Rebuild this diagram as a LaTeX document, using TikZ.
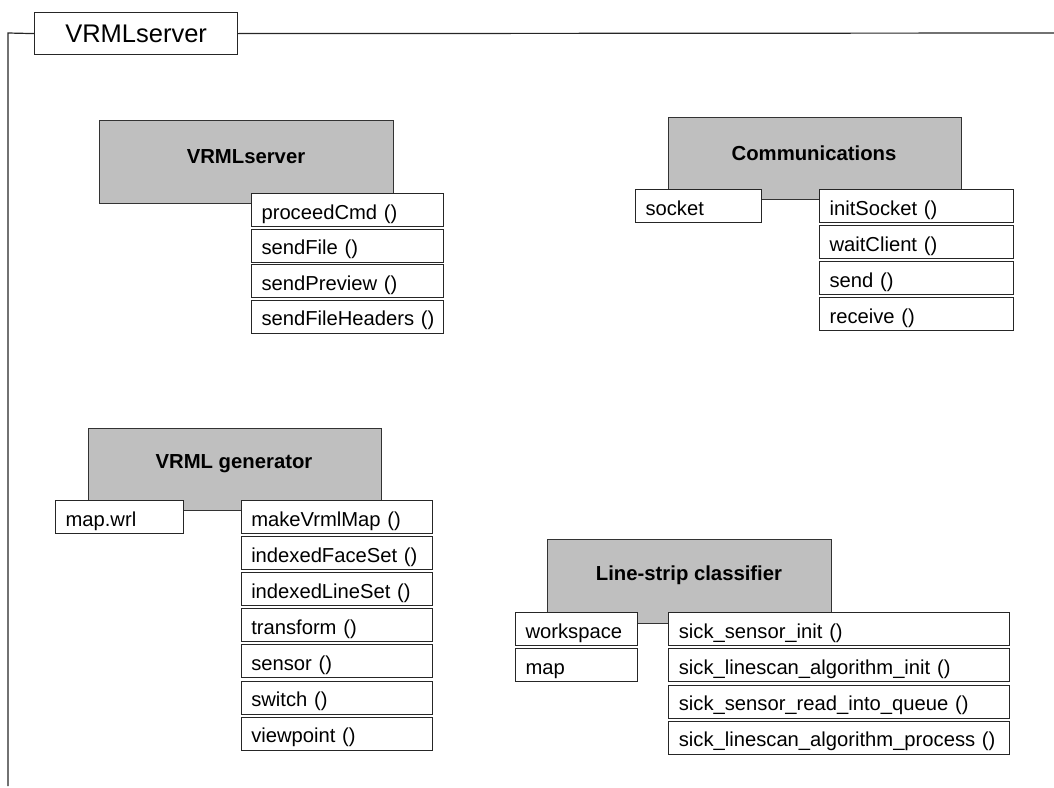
\documentclass[tikz,border=0pt]{standalone}
\usepackage{fontspec}
\setmainfont{Liberation Sans}
\begin{document}
\begin{tikzpicture}[x=1pt,y=-1pt,
  frameline/.style={draw=black!85,line width=1.2pt},
  classbox/.style={draw=black!80,fill=black!25,line width=1.1pt,anchor=north west,inner sep=0pt},
  classtitle/.style={font=\bfseries\fontsize{20.3}{23}\selectfont,inner sep=0pt},
  item/.style={draw=black!85,fill=white,line width=1.1pt,anchor=north west,inner ysep=0pt,inner xsep=10pt,
    align=left,minimum height=33pt,text height=18pt,text depth=0pt,font=\fontsize{20.2}{22}\selectfont},
]
\useasboundingbox (0,0) rectangle (1054,787);
% frame
\node[draw=black!85,line width=1.2pt,anchor=north west,inner sep=0pt,minimum width=203pt,minimum height=42pt,
  font=\fontsize{25.5}{28}\selectfont] (ftitle) at (34,12) {VRMLserver};
\coordinate (fl) at (8,33);
\coordinate (fb) at (8,786);
\coordinate (fr) at (1054,33);
\draw[frameline] (ftitle.west) -- (fl) -- (fb);
\draw[frameline] (ftitle.east) -- (fr);

% ---------- VRMLserver
\node[classbox,minimum width=294pt,minimum height=83pt] (c1) at (99,120) {};
\node[classtitle] (c1t) at (246,156.5) {VRMLserver};
\node[item,text width=171.7pt] (c1m1) at (251,193) {\mbox{proceedCmd ()}};
\node[item,text width=171.7pt] (c1m2) at (251,228.5) {\mbox{sendFile ()}};
\node[item,text width=171.7pt] (c1m3) at (251,264) {\mbox{sendPreview ()}};
\node[item,text width=171.7pt] (c1m4) at (251,299.5) {\mbox{sendFileHeaders ()}};

% ---------- Communications
\node[classbox,minimum width=293pt,minimum height=82.5pt] (c2) at (667.7,116.7) {};
\node[classtitle] (c2t) at (814,153) {Communications};
\node[item,text width=106pt] (c2a1) at (635,189) {socket};
\node[item,text width=173.7pt] (c2m1) at (819,189) {\mbox{initSocket ()}};
\node[item,text width=173.7pt] (c2m2) at (819,225) {\mbox{waitClient ()}};
\node[item,text width=173.7pt] (c2m3) at (819,261) {\mbox{send ()}};
\node[item,text width=173.7pt] (c2m4) at (819,297) {\mbox{receive ()}};

% ---------- VRML generator
\node[classbox,minimum width=293pt,minimum height=82pt] (c3) at (87.7,428) {};
\node[classtitle] (c3t) at (234,464) {VRML generator};
\node[item,text width=107.7pt] (c3a1) at (55,500) {map.wrl};
\node[item,text width=171pt] (c3m1) at (240.7,500) {\mbox{makeVrmlMap ()}};
\node[item,text width=171pt] (c3m2) at (240.7,536) {\mbox{indexedFaceSet ()}};
\node[item,text width=171pt] (c3m3) at (240.7,572) {\mbox{indexedLineSet ()}};
\node[item,text width=171pt] (c3m4) at (240.7,608.3) {\mbox{transform ()}};
\node[item,text width=171pt] (c3m5) at (240.7,644.3) {\mbox{sensor ()}};
\node[item,text width=171pt] (c3m6) at (240.7,680.5) {\mbox{switch ()}};
\node[item,text width=171pt] (c3m7) at (240.7,716.7) {\mbox{viewpoint ()}};

% ---------- Line-strip classifier
\node[classbox,minimum width=284.3pt,minimum height=84pt] (c4) at (546.7,539.3) {};
\node[classtitle] (c4t) at (689,575.5) {Line-strip classifier};
\node[item,text width=101.7pt] (c4a1) at (515,612) {workspace};
\node[item,text width=101.7pt] (c4a2) at (515,648.3) {map};
\node[item,text width=320.7pt] (c4m1) at (668.3,612) {\mbox{sick\_sensor\_init ()}};
\node[item,text width=320.7pt] (c4m2) at (668.3,648.3) {\mbox{sick\_linescan\_algorithm\_init ()}};
\node[item,text width=320.7pt] (c4m3) at (668.3,684.5) {\mbox{sick\_sensor\_read\_into\_queue ()}};
\node[item,text width=320.7pt] (c4m4) at (668.3,720.8) {\mbox{sick\_linescan\_algorithm\_process ()}};
\end{tikzpicture}
\end{document}
